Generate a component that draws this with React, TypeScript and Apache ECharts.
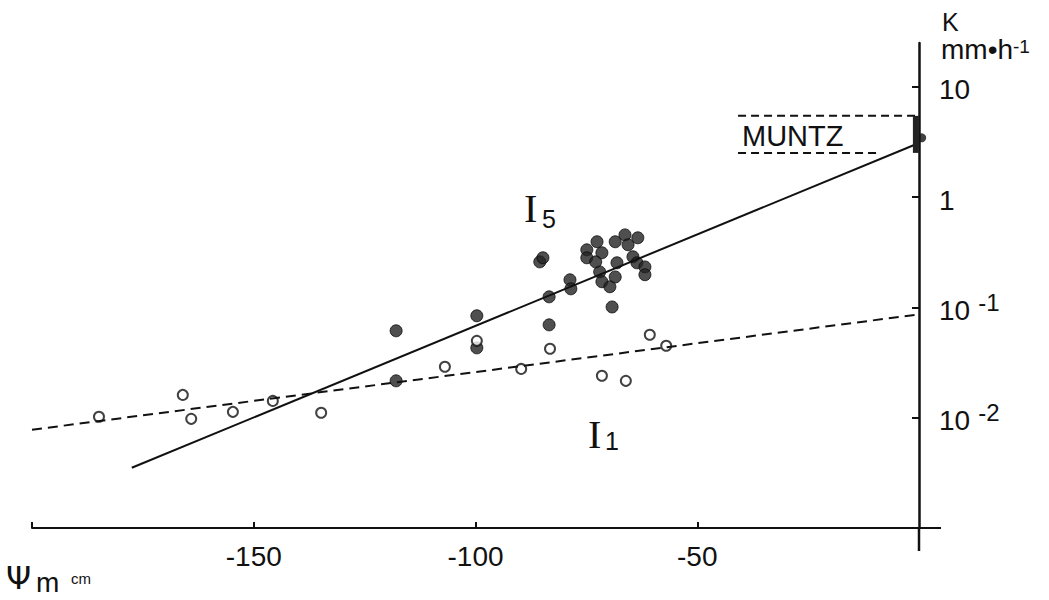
import React, { useEffect, useRef } from 'react';
import * as echarts from 'echarts';

// axis ticks / labels
const xTickValues = [-200, -150, -100, -50];
const xLabelValues = [-150, -100, -50];
const yLabelValues = [0.01, 0.1, 1, 10];

// I1 measurements (open circles): [psi_m (cm), K (mm/h)]
const i1Points: [number, number][] = [
  [-184.9, 0.0102], [-166.0, 0.0161], [-164.1, 0.00977], [-154.7, 0.0113],
  [-145.7, 0.0142], [-134.8, 0.0111], [-106.9, 0.029], [-99.7, 0.0498],
  [-89.7, 0.0277], [-83.2, 0.0422], [-71.5, 0.024], [-66.1, 0.0216],
  [-60.7, 0.0565], [-57.0, 0.0449],
];

// I5 measurements (filled dots)
const i5Points: [number, number][] = [
  [-117.9, 0.0614], [-117.9, 0.0216], [-99.7, 0.084], [-99.7, 0.043],
  [-83.4, 0.0695], [-83.4, 0.1248], [-85.5, 0.259], [-84.8, 0.282],
  [-78.7, 0.178], [-78.5, 0.1475], [-69.2, 0.101],
  [-74.9, 0.333], [-74.9, 0.282], [-72.6, 0.394], [-71.5, 0.313],
  [-72.0, 0.21], [-71.5, 0.171], [-69.7, 0.154], [-68.5, 0.189],
  [-68.1, 0.254], [-68.5, 0.394], [-66.3, 0.455], [-65.6, 0.37],
  [-63.4, 0.428], [-64.5, 0.288], [-63.6, 0.254], [-61.8, 0.233],
  [-61.8, 0.198], [-72.9, 0.259],
];

// regression lines
const i5Fit: [number, number][] = [[-177.5, 0.00352], [0, 3.1]];
const i1Fit: [number, number][] = [[-200, 0.00778], [0, 0.0865]];

// MUNTZ range
const muntzUpper: [number, number][] = [[-40.8, 5.46], [0, 5.46]];
const muntzLower: [number, number][] = [[-40.8, 2.52], [-9.5, 2.52]];
const muntzBar: [number, number][] = [[-0.7, 2.52], [-0.7, 5.46]];
const muntzPoint: [number, number][] = [[0.6, 3.45]];

const SANS = 'Liberation Sans, Arial, sans-serif';
const SERIF = 'Liberation Serif, Times New Roman, serif';

export default function App() {
  const ref = useRef<HTMLDivElement>(null);
  useEffect(() => {
    if (!ref.current) return;
    const chart = echarts.init(ref.current, undefined, { renderer: 'svg' });
    const option: any = {
      animation: false,
      backgroundColor: '#ffffff',
      grid: { left: 32, right: 130, top: 43, bottom: 72 },
      xAxis: {
        type: 'value',
        min: -200,
        max: 0,
        interval: 50,
        splitLine: { show: false },
        axisLine: { show: true, lineStyle: { color: '#111', width: 2 } },
        axisTick: { show: true, inside: true, length: 6, customValues: xTickValues, lineStyle: { color: '#111', width: 2 } },
        axisLabel: {
          show: true,
          customValues: xLabelValues,
          margin: 14,
          color: '#111',
          fontFamily: SANS,
          fontSize: 28,
          formatter: (v: number) => (xLabelValues.includes(v) ? String(v) : ''),
        },
      },
      yAxis: {
        type: 'log',
        logBase: 10,
        min: 0.001,
        max: 25,
        position: 'right',
        splitLine: { show: false },
        axisLine: { show: true, lineStyle: { color: '#111', width: 2.5 } },
        axisTick: { show: true, inside: true, length: 7, customValues: yLabelValues, lineStyle: { color: '#111', width: 2 } },
        axisLabel: {
          show: true,
          customValues: yLabelValues,
          margin: 20,
          color: '#111',
          fontFamily: SANS,
          formatter: (v: number) => {
            const e = Math.round(Math.log10(v));
            if (Math.abs(Math.log10(v) - e) > 1e-6) return '';
            if (e === 1) return '{b|10}';
            if (e === 0) return '{b|1}';
            if (e < -2) return '';
            return '{b|10}{s|-' + Math.abs(e) + '}';
          },
          rich: {
            b: { fontSize: 28, lineHeight: 34, fontFamily: SANS, color: '#111', verticalAlign: 'bottom' },
            s: { fontSize: 24, lineHeight: 17, fontFamily: SANS, color: '#111', verticalAlign: 'top', padding: [0, 0, 0, 8] },
          },
        },
      },
      series: [
        {
          type: 'line', data: i5Fit, symbol: 'none', silent: true,
          lineStyle: { color: '#111', width: 2, type: 'solid' },
        },
        {
          type: 'line', data: i1Fit, symbol: 'none', silent: true,
          lineStyle: { color: '#111', width: 2, type: [10, 6] },
        },
        {
          type: 'line', data: muntzUpper, symbol: 'none', silent: true,
          lineStyle: { color: '#111', width: 2, type: [8, 5] },
        },
        {
          type: 'line', data: muntzLower, symbol: 'none', silent: true,
          lineStyle: { color: '#111', width: 2, type: [8, 5] },
        },
        {
          type: 'line', data: muntzBar, symbol: 'none', silent: true, clip: false,
          lineStyle: { color: '#222', width: 6, cap: 'butt' },
        },
        {
          type: 'scatter', data: muntzPoint, symbol: 'circle', symbolSize: 9, clip: false,
          itemStyle: { color: '#111' },
        },
        {
          type: 'scatter', data: i5Points, symbol: 'circle', symbolSize: 12,
          itemStyle: { color: '#232323', borderColor: '#0a0a0a', borderWidth: 1 },
        },
        {
          type: 'scatter', data: i1Points, symbol: 'circle', symbolSize: 10,
          itemStyle: { color: '#ffffff', borderColor: '#111', borderWidth: 2 },
        },
      ],
      graphic: [
        // axis extensions
        { type: 'line', shape: { x1: 919, y1: 528, x2: 919, y2: 551 }, style: { stroke: '#111', lineWidth: 2.5 } },
        { type: 'line', shape: { x1: 919, y1: 528, x2: 941, y2: 528 }, style: { stroke: '#111', lineWidth: 2 } },
        // y axis title
        { type: 'text', x: 942, y: 9, style: { text: 'K', font: '25px ' + SANS, fill: '#111' } },
        {
          type: 'text', x: 941, y: 37,
          style: {
            text: '{b|mm\u2022h}{s|-1}',
            fill: '#111',
            rich: {
              b: { fontSize: 28, lineHeight: 26, fontFamily: SANS, verticalAlign: 'bottom', fill: '#111' },
              s: { fontSize: 19, lineHeight: 14, fontFamily: SANS, verticalAlign: 'top', fill: '#111' },
            },
          },
        },
        // x axis title
        { type: 'text', x: 6, y: 562, style: { text: '\u03A8', font: '32px DejaVu Sans, sans-serif', fill: '#111' } },
        { type: 'text', x: 36, y: 568, style: { text: 'm', font: '28px ' + SANS, fill: '#111' } },
        { type: 'text', x: 71, y: 571, style: { text: 'cm', font: '15px ' + SANS, fill: '#111' } },
        // MUNTZ
        { type: 'text', x: 742, y: 121, style: { text: 'MUNTZ', font: '29px ' + SANS, fill: '#111' } },
        // I5 label
        { type: 'text', x: 524, y: 188, style: { text: 'I', font: '40px ' + SERIF, fill: '#111' } },
        { type: 'text', x: 542, y: 206, style: { text: '5', font: '25px ' + SANS, fill: '#111' } },
        // I1 label
        { type: 'text', x: 588, y: 414, style: { text: 'I', font: '40px ' + SERIF, fill: '#111' } },
        { type: 'text', x: 605, y: 428, style: { text: '1', font: '25px ' + SANS, fill: '#111' } },
      ],
    };
    chart.setOption(option);
    return () => chart.dispose();
  }, []);
  return (
    <div
      ref={ref}
      style={{ position: 'fixed', left: 0, top: 0, width: 1049, height: 600, background: '#fff' }}
    />
  );
}
